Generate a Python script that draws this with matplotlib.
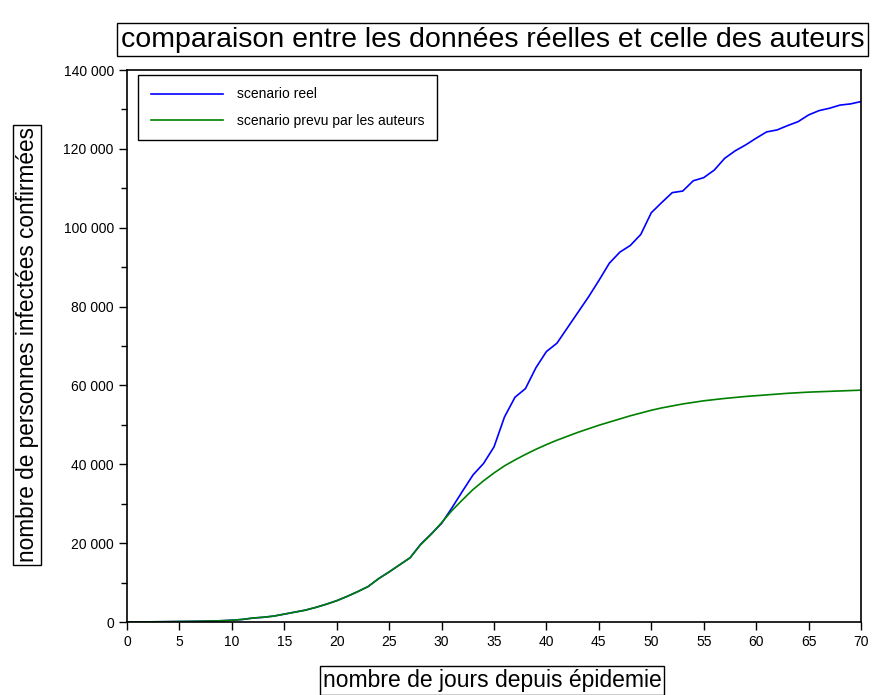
import matplotlib
matplotlib.use("Agg")
import matplotlib.pyplot as plt
from matplotlib.ticker import MultipleLocator, FuncFormatter

plt.rcParams['font.family'] = ['Liberation Sans', 'DejaVu Sans']

# jours depuis le debut de l'epidemie
jours = list(range(0, 71))

# cas confirmes reels
reel = [10, 20, 40, 60, 90, 120, 150, 190, 240, 320,
        450, 650, 1000, 1200, 1500, 2000, 2500, 3000, 3700, 4500,
        5400, 6500, 7700, 9000, 11000, 12700, 14500, 16300, 19700, 22300,
        25000, 29000, 33200, 37300, 40200, 44400, 52000, 57000, 59200, 64500,
        68600, 70700, 74600, 78500, 82400, 86600, 91000, 93800, 95500, 98300,
        103800, 106400, 108900, 109300, 111900, 112700, 114600, 117600, 119500, 121000,
        122700, 124300, 124800, 125900, 126900, 128600, 129700, 130300, 131100, 131400,
        132000]

# scenario prevu par les auteurs
prevu = [10, 20, 40, 60, 90, 120, 150, 190, 240, 320,
         450, 650, 1000, 1200, 1500, 2000, 2500, 3000, 3700, 4500,
         5400, 6500, 7700, 9000, 11000, 12700, 14500, 16300, 19600, 22200,
         25200, 28300, 31000, 33600, 35800, 37800, 39600, 41100, 42500, 43800,
         45000, 46100, 47100, 48100, 49000, 49900, 50700, 51500, 52300, 53000,
         53700, 54300, 54800, 55300, 55700, 56100, 56400, 56700, 56950, 57200,
         57400, 57600, 57800, 58000, 58150, 58300, 58400, 58500, 58600, 58700,
         58800]

fig = plt.figure(figsize=(8.74, 6.95), dpi=100)
ax = fig.add_axes([127/874, 1 - 622/695, (861-127)/874, (622-70)/695])

ax.plot(jours, reel, color='#0000ff', lw=1.2, label='scenario reel')
ax.plot(jours, prevu, color='#008000', lw=1.2, label='scenario prevu par les auteurs')

ax.set_xlim(0, 70)
ax.set_ylim(0, 140000)
ax.xaxis.set_major_locator(MultipleLocator(5))
ax.yaxis.set_major_locator(MultipleLocator(20000))
ax.yaxis.set_minor_locator(MultipleLocator(10000))
ax.yaxis.set_major_formatter(FuncFormatter(lambda v, p: f"{int(v):,}".replace(",", " ")))
ax.tick_params(direction='out', length=6, width=1, labelsize=10)
ax.tick_params(which='minor', direction='out', length=4, width=1)
for s in ax.spines.values():
    s.set_linewidth(1.2)

leg = ax.legend(loc='upper left', bbox_to_anchor=(0.015, 0.991), borderaxespad=0,
                fontsize=10, handlelength=5.2, handletextpad=1.0, fancybox=False,
                framealpha=1, edgecolor='black', borderpad=0.9, labelspacing=0.9)
leg.get_frame().set_linewidth(1.0)

box = dict(boxstyle='square,pad=0.12', fc='white', ec='black', lw=1)
fig.text(0.5635, 0.943, "comparaison entre les données réelles et celle des auteurs",
         ha='center', va='center', fontsize=20.5, bbox=box)
fig.text(0.563, 0.021, "nombre de jours depuis épidemie",
         ha='center', va='center', fontsize=16.5, bbox=box)
fig.text(0.031, 0.504, "nombre de personnes infectées confirmées",
         ha='center', va='center', rotation=90, fontsize=16.3, bbox=box)

fig.savefig("out.png", dpi=100)
